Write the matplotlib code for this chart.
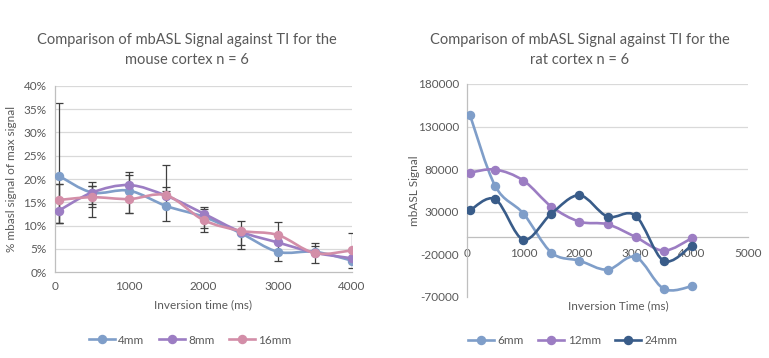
import numpy as np
import matplotlib
matplotlib.use("Agg")
import matplotlib.pyplot as plt
from matplotlib.path import Path
from matplotlib.patches import PathPatch
from matplotlib.lines import Line2D

plt.rcParams['font.family'] = ['Lato', 'DejaVu Sans']

# ---------------- data ----------------
ti = [50, 500, 1000, 1500, 2000, 2500, 3000, 3500, 4000]

mouse_labels = ["4mm", "8mm", "16mm"]
mouse_4mm = [20.7, 17.1, 17.5, 14.2, 11.9, 8.4, 4.4, 4.4, 2.5]
mouse_8mm = [13.2, 17.1, 18.7, 16.4, 12.6, 8.7, 6.4, 4.2, 3.0]
mouse_16mm = [15.5, 16.1, 15.7, 16.5, 11.2, 8.9, 8.0, 4.1, 4.7]

err_4mm_lo = [10.2, 3.2, 4.8, 3.2, 2.3, 3.4, 2.0, 2.5, 1.5]
err_4mm_hi = [15.5, 2.2, 3.4, 3.2, 2.2, 2.7, 2.0, 1.9, 0.0]
err_8mm_lo = [2.7, 2.5, 0.0, 0.0, 3.9, 2.9, 0.0, 0.0, 0.0]
err_8mm_hi = [5.7, 1.5, 2.9, 1.9, 1.0, 0.0, 0.0, 1.5, 0.0]
err_16mm_lo = [5.0, 4.2, 3.0, 0.0, 0.0, 0.0, 0.0, 0.0, 0.0]
err_16mm_hi = [3.4, 2.5, 0.0, 6.6, 0.0, 0.0, 2.7, 0.0, 3.8]

rat_labels = ["6mm", "12mm", "24mm"]
rat_6mm = [143000, 59800, 27700, -18200, -27700, -38200, -23300, -60600, -57800]
rat_12mm = [75900, 79400, 66500, 35900, 18200, 15100, 200, -15900, -1400]
rat_24mm = [31600, 44500, -2900, 27700, 49200, 24100, 25300, -27700, -10000]

mouse_yticks = [0, 5, 10, 15, 20, 25, 30, 35, 40]
mouse_xticks = [0, 1000, 2000, 3000, 4000]
rat_yticks = [-70000, -20000, 30000, 80000, 130000, 180000]
rat_xticks = [0, 1000, 2000, 3000, 4000, 5000]

# ---------------- style ----------------
c_blue = "#7F9EC9"
c_purple = "#9C7DC3"
c_pink = "#D38EA8"
c_navy = "#395C89"
txt = "#595959"
grid_c = "#D9D9D9"
axis_c = "#BFBFBF"
LW = 1.9
MS = 5.8


def smooth_line(ax, x, y, color, zorder=3):
    pts = np.column_stack([x, y]).astype(float)
    n = len(pts)
    verts = [pts[0]]
    codes = [Path.MOVETO]
    for i in range(n - 1):
        p0 = pts[i - 1] if i > 0 else pts[i]
        p1 = pts[i]
        p2 = pts[i + 1]
        p3 = pts[i + 2] if i + 2 < n else pts[i + 1]
        c1 = p1 + (p2 - p0) / 6.0
        c2 = p2 - (p3 - p1) / 6.0
        verts += [c1, c2, p2]
        codes += [Path.CURVE4] * 3
    patch = PathPatch(Path(verts, codes), facecolor="none", edgecolor=color,
                      lw=LW, zorder=zorder, capstyle="round", joinstyle="round")
    ax.add_patch(patch)
    ax.plot(x, y, linestyle="none", marker="o", ms=MS, color=color, zorder=zorder + 0.1)


fig = plt.figure(figsize=(7.69, 3.58), dpi=100)

# ---------------- left chart ----------------
ax1 = fig.add_axes([55 / 769, 1 - 272.3 / 358, 297 / 769, 186.6 / 358])
ax1.set_xlim(0, 4000)
ax1.set_ylim(0, 40)
ax1.set_yticks(mouse_yticks)
ax1.set_yticklabels([f"{v}%" for v in mouse_yticks])
ax1.set_xticks(mouse_xticks)
ax1.set_xticklabels([str(v) for v in mouse_xticks])
for v in mouse_yticks[1:]:
    ax1.axhline(v, color=grid_c, lw=0.9, zorder=0)
for s in ["top", "right"]:
    ax1.spines[s].set_visible(False)
for s in ["left", "bottom"]:
    ax1.spines[s].set_color(axis_c)
    ax1.spines[s].set_linewidth(0.9)
ax1.tick_params(length=0, colors=txt, labelsize=8.5, pad=6)

for vals, lo, hi in [(mouse_4mm, err_4mm_lo, err_4mm_hi),
                     (mouse_8mm, err_8mm_lo, err_8mm_hi),
                     (mouse_16mm, err_16mm_lo, err_16mm_hi)]:
    ax1.errorbar(ti, vals, yerr=[lo, hi], fmt="none", ecolor="#404040",
                 elinewidth=0.9, capsize=3, capthick=0.9, zorder=2)

smooth_line(ax1, ti, mouse_4mm, c_blue, 3)
smooth_line(ax1, ti, mouse_8mm, c_purple, 4)
smooth_line(ax1, ti, mouse_16mm, c_pink, 5)

ax1.text(0.5, -0.175, "Inversion time (ms)", transform=ax1.transAxes,
         ha="center", va="center", fontsize=8.5, color=txt)
ax1.text(-0.145, 0.5, "% mbasl signal of max signal", transform=ax1.transAxes,
         ha="center", va="center", rotation=90, fontsize=8.5, color=txt)

fig.text(187 / 769, 1 - 40 / 358, "Comparison of mbASL Signal against TI for the",
         ha="center", va="center", fontsize=10.5, color=txt)
fig.text(187 / 769, 1 - 60 / 358, "mouse cortex n = 6",
         ha="center", va="center", fontsize=10.5, color=txt)

h1 = [Line2D([], [], color=c, lw=LW, marker="o", ms=MS) for c in (c_blue, c_purple, c_pink)]
fig.legend(h1, mouse_labels, loc="center", bbox_to_anchor=(190 / 769, 1 - 340 / 358),
           ncol=3, frameon=False, fontsize=8.5, labelcolor=txt, handlelength=2.2,
           handletextpad=0.3, columnspacing=1.2)

# ---------------- right chart ----------------
ax2 = fig.add_axes([467.3 / 769, 1 - 296.7 / 358, 280.4 / 769, 212.7 / 358])
ax2.set_xlim(0, 5000)
ax2.set_ylim(-70000, 180000)
ax2.set_yticks(rat_yticks)
ax2.set_yticklabels([str(v) for v in rat_yticks])
ax2.set_xticks(rat_xticks)
ax2.set_xticklabels([str(v) for v in rat_xticks])
for v in rat_yticks:
    if v > 0:
        ax2.axhline(v, color=grid_c, lw=0.9, zorder=0)
for s in ["top", "right"]:
    ax2.spines[s].set_visible(False)
ax2.spines["bottom"].set_position(("data", 0))
for s in ["left", "bottom"]:
    ax2.spines[s].set_color(axis_c)
    ax2.spines[s].set_linewidth(0.9)
ax2.tick_params(length=0, colors=txt, labelsize=8.5)
ax2.tick_params(axis="y", pad=6)
ax2.tick_params(axis="x", pad=8)

smooth_line(ax2, ti, rat_6mm, c_blue, 3)
smooth_line(ax2, ti, rat_12mm, c_purple, 4)
smooth_line(ax2, ti, rat_24mm, c_navy, 5)

ax2.text(0.54, -0.045, "Inversion Time (ms)", transform=ax2.transAxes,
         ha="center", va="center", fontsize=8.5, color=txt)
ax2.text(-0.19, 0.5, "mbASL Signal", transform=ax2.transAxes,
         ha="center", va="center", rotation=90, fontsize=8.5, color=txt)

fig.text(580 / 769, 1 - 40 / 358, "Comparison of mbASL Signal against TI for the",
         ha="center", va="center", fontsize=10.5, color=txt)
fig.text(580 / 769, 1 - 60 / 358, "rat cortex n = 6",
         ha="center", va="center", fontsize=10.5, color=txt)

h2 = [Line2D([], [], color=c, lw=LW, marker="o", ms=MS) for c in (c_blue, c_purple, c_navy)]
fig.legend(h2, rat_labels, loc="center", bbox_to_anchor=(573 / 769, 1 - 341 / 358),
           ncol=3, frameon=False, fontsize=8.5, labelcolor=txt, handlelength=2.2,
           handletextpad=0.3, columnspacing=1.2)

fig.savefig("out.png", dpi=100)
